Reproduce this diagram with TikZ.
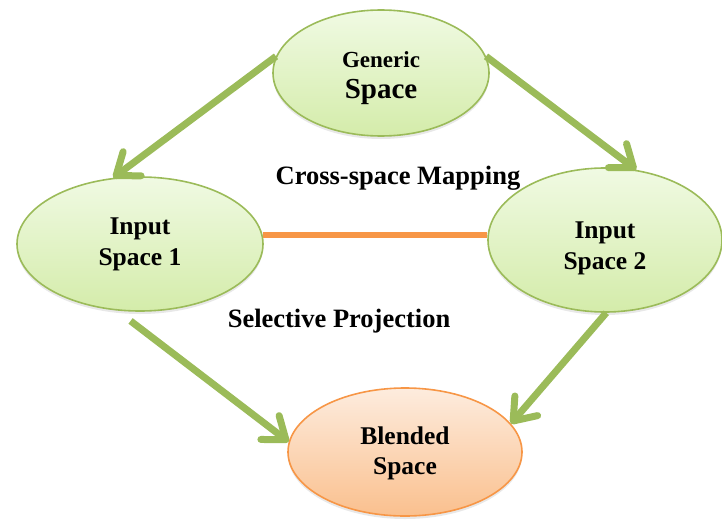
\documentclass[tikz,border=0pt]{standalone}
\usepackage{fontspec}
\setmainfont{Liberation Serif}
\usetikzlibrary{shapes.geometric,arrows.meta,shadows}
\definecolor{ogreen}{RGB}{155,187,89}
\definecolor{oorange}{RGB}{247,150,70}
\definecolor{gtop}{RGB}{240,250,227}
\definecolor{gbot}{RGB}{212,236,170}
\definecolor{otop}{RGB}{253,236,222}
\definecolor{obot}{RGB}{250,192,142}
\tikzset{
  greenell/.style={ellipse, draw=ogreen, line width=1.6pt, top color=gtop, bottom color=gbot,
    inner sep=0pt, align=center, font=\bfseries\fontsize{25.5}{31}\selectfont,
    drop shadow={opacity=0.18, shadow xshift=0pt, shadow yshift=-3pt}},
  orangeell/.style={ellipse, draw=oorange, line width=1.6pt, top color=otop, bottom color=obot,
    inner sep=0pt, align=center, font=\bfseries\fontsize{25.5}{30}\selectfont,
    drop shadow={opacity=0.18, shadow xshift=0pt, shadow yshift=-3pt}},
  garrow/.style={draw=ogreen, line width=7pt, -{Straight Barb[length=20pt,width=30pt,round]}},
  oline/.style={draw=oorange, line width=6pt},
  lab/.style={font=\bfseries\fontsize{26.5}{30}\selectfont, anchor=base, inner sep=0pt}
}
\begin{document}
\begin{tikzpicture}[x=1pt,y=-1pt]
\useasboundingbox (0,0) rectangle (722,519);
\node[greenell, minimum width=216pt, minimum height=126pt] (gen) at (381,73)
  {\rule{0pt}{27pt}{\fontsize{23}{32}\selectfont Generic}\\{\fontsize{29}{32}\selectfont Space}};
\node[greenell, minimum width=246pt, minimum height=134pt] (in1) at (140,244) {Input\\Space 1};
\node[greenell, minimum width=234pt, minimum height=144pt] (in2) at (605,240) {\rule{0pt}{34pt}Input\\Space 2};
\node[orangeell, minimum width=234pt, minimum height=128pt] (bl) at (405,452) {\rule{0pt}{21pt}Blended\\Space};
\node[lab] (map) at (398,184) {Cross-space Mapping};
\node[lab] (proj) at (339,327) {Selective Projection};
\draw[oline] (in1.4) -- (in1.4 -| in2.west);
\draw[garrow] (gen.171.6) -- (in1.112.7);
\draw[garrow] (gen.9.4) -- (in2.66.5);
\draw[garrow, shorten <=17pt] (in1.251.6) -- (bl.175.6);
\draw[garrow] (in2.271.6) -- (bl.15.3);
\end{tikzpicture}
\end{document}
